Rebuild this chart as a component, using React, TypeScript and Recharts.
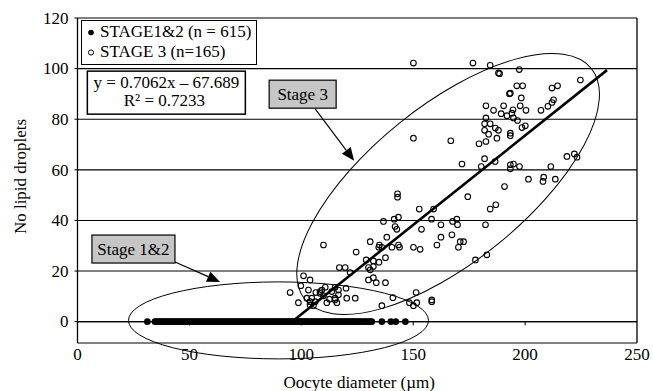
import React from 'react';
import {
  ScatterChart,
  Scatter,
  XAxis,
  YAxis,
  CartesianGrid,
  ReferenceLine,
  ReferenceDot,
  Legend,
} from 'recharts';

const FONT = '"Liberation Serif", "Times New Roman", Times, serif';
const FS = 17;
const textStyle = { fontFamily: FONT, fontSize: FS, fill: '#000' };

// Axis ticks
const xTicks = [0, 50, 100, 150, 200, 250];
const yTicks = [0, 20, 40, 60, 80, 100, 120];
const xMinorTicks = [50, 100, 150, 200];

// Series names (legend order)
const stage12Name = 'STAGE1&2 (n = 615)';
const stage3Name = 'STAGE 3 (n=165)';
const legendOrder = [stage12Name, stage3Name];

// Stage 1&2 oocytes: diameters (µm), all with 0 lipid droplets
const stage12Diameters = [
  31.2,
  34.6, 35.3, 36.1, 36.8, 37.4, 38.2, 38.9, 39.5, 40.3, 41.0, 41.8, 42.4, 43.1, 43.9,
  44.6, 45.2, 46.0, 46.7, 47.5, 48.1, 48.8, 49.6, 50.3, 51.0, 51.7, 52.5, 53.2, 53.8,
  54.6, 55.3, 56.1, 56.8, 57.4, 58.2, 58.9, 59.7, 60.4, 61.0, 61.8, 62.5, 63.3, 63.9,
  64.7, 65.4, 66.0, 66.8, 67.5, 68.3, 69.0, 69.6, 70.4, 71.1, 71.9, 72.5, 73.2, 74.0,
  74.7, 75.5, 76.1, 76.8, 77.6, 78.3, 79.0, 79.7, 80.5, 81.2, 81.8, 82.6, 83.3, 84.1,
  84.7, 85.4, 86.2, 86.9, 87.7, 88.3, 89.0, 89.8, 90.5, 91.3, 91.9, 92.6, 93.4, 94.1,
  94.8, 95.5, 96.3, 97.0, 97.6, 98.4, 99.1, 99.9, 100.5, 101.2, 102.0, 102.7, 103.5,
  104.1, 104.8, 105.6, 106.3, 107.1, 107.7, 108.4, 109.2, 109.9, 110.6, 111.3, 112.0,
  112.8, 113.5, 114.2, 114.9, 115.6, 116.4, 117.1, 117.8, 118.5, 119.3, 120.0, 120.7,
  121.5, 122.2, 122.9, 123.7, 124.4, 125.1, 125.9, 126.6, 127.4, 128.3, 129.1, 130.0,
  130.8, 131.5,
  136.0, 140.0, 142.2, 146.5,
];

// Stage 3 oocytes: [diameter (µm), number of lipid droplets]
const stage3Points: [number, number][] = [
  [150.1, 102.2], [176.7, 102.2], [184.4, 101.3], [188.1, 98.3], [188.6, 98.0],
  [197.4, 99.6], [196.3, 93.2], [198.9, 93.2], [193.0, 90.1], [193.4, 90.3],
  [198.3, 88.4], [212.0, 92.3], [214.5, 93.2], [224.7, 95.5], [182.5, 85.3],
  [185.9, 83.5], [190.4, 85.3], [194.6, 83.7], [197.8, 85.3], [200.4, 83.5],
  [189.3, 82.2], [191.9, 81.4], [194.1, 82.4], [194.8, 80.5], [196.6, 79.5],
  [207.1, 83.5], [210.2, 85.1], [212.0, 86.6], [212.7, 87.7], [182.5, 80.5],
  [181.9, 78.2], [184.4, 78.2], [186.7, 76.5], [188.1, 75.6], [181.9, 75.6],
  [183.7, 74.1], [187.4, 72.5], [193.4, 74.5], [193.4, 73.5], [198.6, 76.7],
  [200.1, 77.4], [179.4, 70.3], [182.5, 71.2], [150.1, 72.5], [166.8, 71.5],
  [171.8, 62.3], [180.4, 61.3], [181.9, 64.4], [186.6, 63.3], [193.4, 62.0],
  [194.8, 62.3], [197.5, 61.3], [193.4, 60.4], [218.7, 65.3], [222.0, 66.3],
  [223.2, 65.0], [211.5, 61.3], [201.5, 56.3], [208.3, 57.1], [208.0, 55.4],
  [213.5, 56.3], [190.8, 53.4], [143.0, 50.5], [143.0, 49.2], [174.4, 49.4],
  [152.7, 44.5], [159.1, 44.5], [184.4, 44.5], [186.9, 46.2], [136.7, 39.6],
  [141.5, 40.5], [143.4, 41.3], [158.2, 40.5], [162.4, 38.3], [167.6, 39.6],
  [169.5, 40.5], [169.8, 38.3], [182.3, 38.3], [141.9, 37.6], [142.7, 36.5],
  [153.7, 36.5], [138.2, 33.4], [130.8, 31.6], [134.9, 30.3], [136.0, 29.4],
  [134.6, 29.4], [140.5, 29.4], [143.4, 30.3], [143.9, 29.4], [109.9, 30.3],
  [150.1, 29.4], [153.1, 28.6], [160.6, 30.3], [162.4, 33.4], [167.3, 34.3],
  [171.0, 31.6], [170.2, 29.4], [172.5, 31.6], [177.8, 24.4], [182.9, 26.4],
  [124.5, 27.5], [137.6, 25.3], [129.0, 24.4], [132.2, 24.0], [134.7, 23.5],
  [117.0, 21.4], [119.6, 21.4], [121.8, 19.4], [130.0, 21.4], [130.8, 20.5],
  [132.2, 21.8], [130.0, 16.5], [132.2, 17.4], [133.5, 15.4], [137.6, 15.4],
  [101.0, 18.1], [103.9, 16.5], [99.8, 14.2], [95.0, 11.5], [98.7, 7.5],
  [103.2, 12.5], [106.5, 11.5], [109.2, 12.5], [110.7, 13.6], [102.5, 9.3],
  [104.7, 9.3], [106.2, 7.9], [103.9, 6.6], [105.4, 6.3], [111.4, 7.5],
  [112.6, 8.9], [115.1, 9.3], [115.9, 7.5], [116.6, 10.6], [115.1, 13.6],
  [120.0, 13.2], [120.3, 9.3], [124.1, 9.3], [108.4, 11.2], [109.9, 10.2],
  [113.6, 11.9], [136.0, 6.3], [140.9, 9.5], [151.3, 11.5], [148.3, 7.5],
  [150.1, 6.3], [151.6, 7.5], [158.3, 8.6], [158.3, 7.9], [108.4, 11.9],
  [115.1, 8.6], [116.6, 12.5], [103.9, 7.9],
];

// Linear fit of stage 3 (y = slope * x + intercept)
const slope = 0.7062;
const intercept = -67.689;
const rSquared = 0.7233;
const trendStartX = -intercept / slope;
const trendEndX = 236.6;

const stage12Data = stage12Diameters.map((x) => ({ x, y: 0 }));
const stage3Data = stage3Points.map(([x, y]) => ({ x, y }));

// Annotation anchors (data units) and sizes (px)
const stage12Ellipse = { x: 89.8, y: 0.5, rx: 150, ry: 38.5, angle: 0 };
const stage3Ellipse = { x: 165.6, y: 54.4, rx: 184, ry: 78, angle: -38.9 };
const stage3Callout = { x: 100.6, y: 89.9, w: 67, h: 28, text: 'Stage 3' };
const stage12Callout = { x: 25.0, y: 28.7, w: 83, h: 28, text: 'Stage 1&2' };
const stage3Arrow = [{ x: 106.2, y: 84.1 }, { x: 123.6, y: 63.6 }];
const stage12Arrow = [{ x: 43.6, y: 23.6 }, { x: 63.7, y: 15.7 }];
const equationAnchor = { x: 39.7, y: 90.5, w: 158, h: 43 };

const FilledDot = (p: any) => <circle cx={p.cx} cy={p.cy} r={3.3} fill="#000" />;
const OpenDot = (p: any) => (
  <circle cx={p.cx} cy={p.cy} r={2.8} fill="none" stroke="#000" strokeWidth={1.1} />
);

const makeEllipse = (e: { rx: number; ry: number; angle: number }) => (p: any) => (
  <ellipse
    cx={p.cx}
    cy={p.cy}
    rx={e.rx}
    ry={e.ry}
    transform={`rotate(${e.angle} ${p.cx} ${p.cy})`}
    fill="none"
    stroke="#000"
    strokeWidth={1}
  />
);

const makeCallout = (c: { w: number; h: number; text: string }) => (p: any) => (
  <g>
    <rect
      x={p.cx - c.w / 2}
      y={p.cy - c.h / 2}
      width={c.w}
      height={c.h}
      fill="#c6c6c6"
      stroke="#000"
      strokeWidth={1.2}
    />
    <text x={p.cx} y={p.cy + 6} textAnchor="middle" style={textStyle}>
      {c.text}
    </text>
  </g>
);

const Arrow = (p: any) => {
  const { x1, y1, x2, y2 } = p;
  const dx = x2 - x1;
  const dy = y2 - y1;
  const len = Math.sqrt(dx * dx + dy * dy);
  const ux = dx / len;
  const uy = dy / len;
  const head = 13;
  const half = 5.5;
  const bx = x2 - ux * head;
  const by = y2 - uy * head;
  const pts = `${x2},${y2} ${bx - uy * half},${by + ux * half} ${bx + uy * half},${by - ux * half}`;
  return (
    <g>
      <line x1={x1} y1={y1} x2={bx} y2={by} stroke="#000" strokeWidth={1.2} />
      <polygon points={pts} fill="#000" />
    </g>
  );
};

const EquationBox = (p: any) => {
  const { w, h } = equationAnchor;
  return (
    <g>
      <rect
        x={p.cx - w / 2}
        y={p.cy - h / 2}
        width={w}
        height={h}
        fill="#fff"
        stroke="#000"
        strokeWidth={1.5}
      />
      <text x={p.cx} y={p.cy - 4.7} textAnchor="middle" style={textStyle}>
        {`y = ${slope}x – ${Math.abs(intercept)}`}
      </text>
      <text x={p.cx - 2} y={p.cy + 13.7} textAnchor="middle" style={textStyle}>
        {`R² = ${rSquared}`}
      </text>
    </g>
  );
};

const LegendBox = (props: any) => {
  const payload = [...(props.payload || [])].sort(
    (a: any, b: any) => legendOrder.indexOf(a.value) - legendOrder.indexOf(b.value)
  );
  return (
    <div
      style={{
        boxSizing: 'border-box',
        width: 176,
        height: 45,
        border: '1.7px solid #000',
        background: '#fff',
        fontFamily: FONT,
        fontSize: FS,
        lineHeight: '20px',
        color: '#000',
        paddingTop: 1,
        paddingLeft: 4,
      }}
    >
      {payload.map((entry: any) => {
        const filled = entry.value === stage12Name;
        return (
          <div key={entry.value} style={{ display: 'flex', alignItems: 'center', whiteSpace: 'nowrap' }}>
            <svg width={14} height={20} style={{ flex: 'none' }}>
              {filled ? (
                <circle cx={5} cy={10.5} r={2.8} fill="#000" />
              ) : (
                <circle cx={5} cy={10.5} r={2.6} fill="none" stroke="#000" strokeWidth={1} />
              )}
            </svg>
            <span>{entry.value}</span>
          </div>
        );
      })}
    </div>
  );
};

const XTick = (p: any) => (
  <text x={p.x} y={p.y} dy="0.71em" textAnchor="middle" style={textStyle}>
    {p.payload.value}
  </text>
);

const YTick = (p: any) => (
  <text x={p.x} y={p.y} dy="0.34em" textAnchor="end" style={textStyle}>
    {p.payload.value}
  </text>
);

const YTitle = (props: any) => {
  const vb = props.viewBox;
  const cx = vb.x + 20;
  const cy = vb.y + vb.height / 2 - 4;
  return (
    <text
      x={cx}
      y={cy}
      transform={`rotate(-90 ${cx} ${cy})`}
      textAnchor="middle"
      dominantBaseline="central"
      style={textStyle}
    >
      No lipid droplets
    </text>
  );
};

const XTitle = (props: any) => {
  const vb = props.viewBox;
  return (
    <text
      x={vb.x + vb.width / 2 + 2}
      y={vb.y + vb.height - 3.5}
      textAnchor="middle"
      style={textStyle}
    >
      Oocyte diameter (µm)
    </text>
  );
};

export default function App() {
  return (
    <div
      style={{
        position: 'absolute',
        left: 0,
        top: 0,
        width: 653,
        height: 391,
        background: '#fff',
        fontFamily: FONT,
      }}
    >
      <ScatterChart
        width={653}
        height={391}
        margin={{ top: 18, right: 16, bottom: 0, left: 0 }}
        style={{ background: '#fff' }}
      >
        <CartesianGrid vertical={false} stroke="#000" strokeWidth={1.1} fill="none" />
        <XAxis
          type="number"
          dataKey="x"
          domain={[0, 250]}
          ticks={xTicks}
          interval={0}
          allowDataOverflow
          axisLine={false}
          tickLine={false}
          tickSize={3}
          tickMargin={2}
          height={48}
          tick={XTick}
          label={{ content: XTitle }}
        />
        <YAxis
          type="number"
          dataKey="y"
          domain={[-8.43, 120]}
          ticks={yTicks}
          interval={0}
          allowDataOverflow
          width={77.5}
          axisLine={{ stroke: '#000', strokeWidth: 1.3 }}
          tickLine={{ stroke: '#000', strokeWidth: 1 }}
          tickSize={3}
          tickMargin={6}
          tick={YTick}
          label={{ content: YTitle }}
        />
        <ReferenceLine x={250} stroke="#000" strokeWidth={1.3} />
        <ReferenceLine y={0} stroke="#000" strokeWidth={1.2} />
        {xMinorTicks.map((t) => (
          <ReferenceLine
            key={`tick-${t}`}
            segment={[{ x: t, y: 0 }, { x: t, y: -1.5 }]}
            stroke="#000"
            strokeWidth={1}
          />
        ))}
        <Legend
          layout="vertical"
          align="center"
          verticalAlign="middle"
          content={LegendBox}
          wrapperStyle={{ left: 81, top: 20, width: 176, height: 45 }}
        />
        <Scatter
          name={stage12Name}
          data={stage12Data}
          fill="#000"
          shape={FilledDot}
          isAnimationActive={false}
        />
        <Scatter
          name={stage3Name}
          data={stage3Data}
          fill="#fff"
          shape={OpenDot}
          isAnimationActive={false}
        />
        <ReferenceLine
          segment={[
            { x: trendStartX, y: slope * trendStartX + intercept },
            { x: trendEndX, y: slope * trendEndX + intercept },
          ]}
          stroke="#000"
          strokeWidth={2.6}
        />
        <ReferenceDot x={stage12Ellipse.x} y={stage12Ellipse.y} shape={makeEllipse(stage12Ellipse)} />
        <ReferenceDot x={stage3Ellipse.x} y={stage3Ellipse.y} shape={makeEllipse(stage3Ellipse)} />
        <ReferenceLine segment={stage3Arrow} shape={Arrow} />
        <ReferenceLine segment={stage12Arrow} shape={Arrow} />
        <ReferenceDot x={stage3Callout.x} y={stage3Callout.y} shape={makeCallout(stage3Callout)} />
        <ReferenceDot x={stage12Callout.x} y={stage12Callout.y} shape={makeCallout(stage12Callout)} />
        <ReferenceDot x={equationAnchor.x} y={equationAnchor.y} shape={EquationBox} />
      </ScatterChart>
    </div>
  );
}
